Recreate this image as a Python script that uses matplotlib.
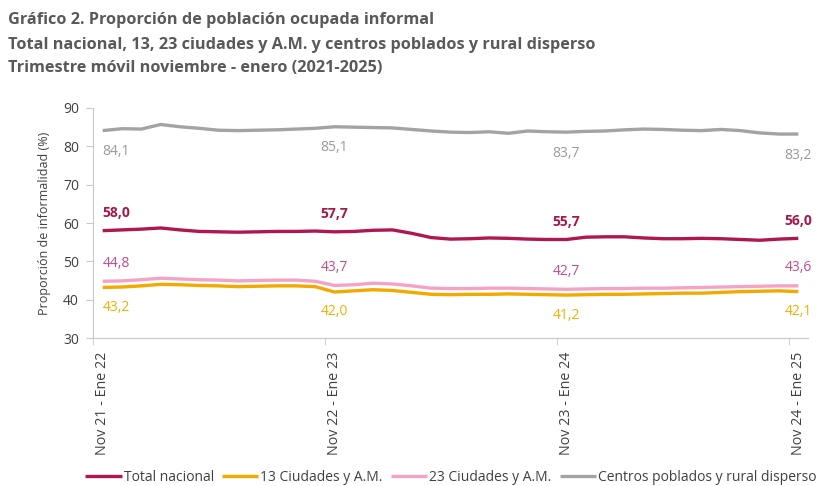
import matplotlib
matplotlib.use("Agg")
import matplotlib.pyplot as plt
import numpy as np

plt.rcParams['font.family'] = ['Open Sans', 'DejaVu Sans']

# rolling quarters Nov 21 - Ene 22 ... Nov 24 - Ene 25 (37 points)
tick_pos = [0, 12, 24, 36]
tick_labels = ['Nov 21 - Ene 22', 'Nov 22 - Ene 23', 'Nov 23 - Ene 24', 'Nov 24 - Ene 25']

total_nacional = [58.0, 58.2, 58.4, 58.7, 58.2, 57.8, 57.7, 57.6, 57.7, 57.8, 57.8, 57.9, 57.7,
                  57.8, 58.1, 58.2, 57.3, 56.2, 55.8, 55.9, 56.1, 56.0, 55.8, 55.7, 55.7,
                  56.3, 56.4, 56.4, 56.1, 55.9, 55.9, 56.0, 55.9, 55.7, 55.5, 55.8, 56.0]
ciudades_13 = [43.2, 43.3, 43.6, 44.0, 43.9, 43.7, 43.6, 43.4, 43.5, 43.6, 43.6, 43.4, 42.0,
               42.3, 42.6, 42.4, 41.9, 41.4, 41.3, 41.4, 41.4, 41.5, 41.4, 41.3, 41.2,
               41.3, 41.4, 41.4, 41.5, 41.6, 41.7, 41.7, 41.9, 42.1, 42.2, 42.3, 42.1]
ciudades_23 = [44.8, 44.9, 45.2, 45.6, 45.4, 45.2, 45.1, 44.9, 45.0, 45.1, 45.1, 44.8, 43.7,
               43.9, 44.3, 44.1, 43.6, 43.0, 42.9, 42.9, 43.0, 43.0, 42.9, 42.8, 42.7,
               42.8, 42.9, 42.9, 43.0, 43.0, 43.1, 43.2, 43.3, 43.4, 43.5, 43.6, 43.6]
centros_poblados = [84.1, 84.6, 84.5, 85.7, 85.1, 84.7, 84.2, 84.1, 84.2, 84.3, 84.5, 84.7, 85.1,
                    85.0, 84.9, 84.8, 84.4, 84.0, 83.7, 83.6, 83.8, 83.4, 84.0, 83.8, 83.7,
                    83.9, 84.0, 84.3, 84.5, 84.4, 84.2, 84.1, 84.4, 84.1, 83.5, 83.2, 83.2]

labels = ['Total nacional', '13 Ciudades y A.M.', '23 Ciudades y A.M.', 'Centros poblados y rural disperso']
line_colors = ['#B0174F', '#F2A900', '#F4A3C6', '#A3A3A3']
text_colors = ['#A8174A', '#F0B000', '#C24A8C', '#9A9A9A']
label_offsets = [4.6, -5.2, 4.7, -5.5]
label_bold = [True, False, False, False]

fig = plt.figure(figsize=(8.26, 4.86), dpi=100)
ax = fig.add_axes([0.1126, 0.3045, 0.8656, 0.4733])

series = [total_nacional, ciudades_13, ciudades_23, centros_poblados]
x = np.arange(len(total_nacional))
for vals, lab, lc, tc, off, bold in zip(series, labels, line_colors, text_colors, label_offsets, label_bold):
    ax.plot(x, vals, color=lc, lw=2.4, label=lab, solid_capstyle='butt')
    for i in tick_pos:
        ax.text(i, vals[i] + off, f"{vals[i]:.1f}".replace('.', ','), color=tc,
                ha='left' if i == 0 else 'center',
                va='center', fontsize=10, fontweight='bold' if bold else 'normal')

ax.set_xlim(-0.5, 36.5)
ax.set_ylim(30, 90)
ax.set_yticks(range(30, 91, 10))
# labels centred on the categories, tick marks on the category boundaries
ax.set_xticks(tick_pos)
ax.set_xticklabels(tick_labels, rotation=90, fontsize=10.3, color='#404040')
ax.set_xticks([p - 0.5 for p in tick_pos], minor=True)
ax.tick_params(axis='x', which='major', length=0, pad=10)
ax.tick_params(axis='x', which='minor', length=5, color='#C8C8C8')
ax.tick_params(axis='y', labelsize=10, labelcolor='#404040', length=5, color='#C8C8C8', pad=5)
for s in ['top', 'right']:
    ax.spines[s].set_visible(False)
for s in ['left', 'bottom']:
    ax.spines[s].set_color('#C8C8C8')
ax.set_ylabel('Proporción de informalidad (%)', fontsize=9, color='#404040', labelpad=9)

title_lines = ['Gráfico 2. Proporción de población ocupada informal',
               'Total nacional, 13, 23 ciudades y A.M. y centros poblados y rural disperso',
               'Trimestre móvil noviembre - enero (2021-2025)']
title_y = [0.959, 0.908, 0.860]
for t, ty in zip(title_lines, title_y):
    fig.text(0.010, ty, t, fontsize=11.7, fontweight='bold', color='#595959', va='center')

fig.legend(loc='center', bbox_to_anchor=(0.546, 0.0185), ncol=4, frameon=False, fontsize=10.0,
           handlelength=2.6, handletextpad=0.15, columnspacing=0.6, labelcolor='#404040')

fig.savefig('out.png', dpi=100)
